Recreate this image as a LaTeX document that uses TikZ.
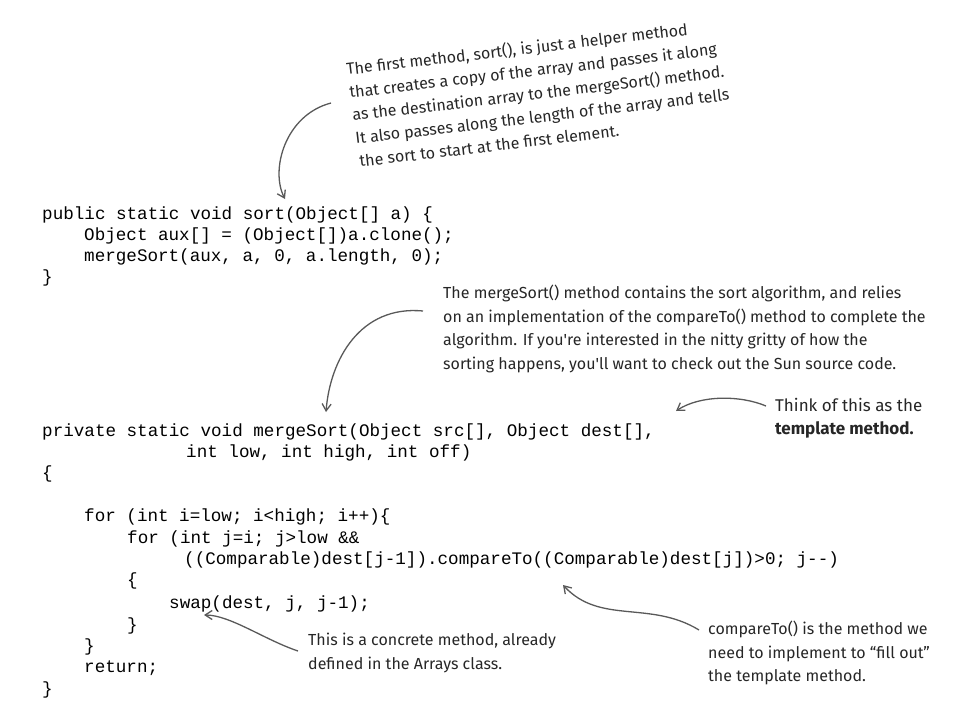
\documentclass[tikz,border=0pt]{standalone}
\usepackage{fontspec}
\setmonofont{Liberation Mono}
\newfontfamily\hand{Fira Sans}
\usetikzlibrary{arrows.meta}
\begin{document}
\begin{tikzpicture}[x=1pt,y=-1pt,
  code/.style={anchor=base west,inner sep=0pt,font=\fontsize{17.6}{20}\ttfamily},
  note/.style={anchor=base west,inner sep=0pt,align=left,font=\hand\fontsize{16}{23.5}\selectfont,text=black!85},
  tilted/.style={note,anchor=base west,rotate=6.7,font=\hand\fontsize{16}{20}\selectfont},
  pointer/.style={draw=black!65,line width=1.3pt,-{Straight Barb[length=7pt,width=9pt]}}]
\useasboundingbox (0,0) rectangle (953,728);
% code block 1
\node[code] (c1) at (42,219) {public static void sort(Object[] a) \{};
\node[code] (c2) at (84,240) {Object aux[] = (Object[])a.clone();};
\node[code] (c3) at (84,261) {mergeSort(aux, a, 0, a.length, 0);};
\node[code] (c4) at (42,282) {\}};
% code block 2
\node[code] (d1) at (42,436) {private static void mergeSort(Object src[], Object dest[],};
\node[code] (d2) at (186,457) {int low, int high, int off)};
\node[code] (d3) at (42,478) {\{};
\node[code] (d4) at (84,521) {for (int i=low; i<high; i++)\{};
\node[code] (d5) at (127,543) {for (int j=i; j>low \&\&};
\node[code] (d6) at (184,564) {((Comparable)dest[j-1]).compareTo((Comparable)dest[j])>0; j--)};
\node[code] (d7) at (127,585) {\{};
\node[code] (d8) at (169,608) {swap(dest, j, j-1);};
\node[code] (d9) at (127,630) {\}};
\node[code] (d10) at (84,651) {\}};
\node[code] (d11) at (84,672) {return;};
\node[code] (d12) at (42,694) {\}};
% notes
\node[tilted] (n1a) at (347,75) {The first method, sort(), is just a helper method};
\node[tilted] (n1b) at (350,98) {that creates a copy of the array and passes it along};
\node[tilted] (n1c) at (353,121) {as the destination array to the mergeSort() method.};
\node[tilted] (n1d) at (356,144) {It also passes along the length of the array and tells};
\node[tilted] (n1e) at (360,167) {the sort to start at the first element.};
\node[note,anchor=north west] (n2) at (443,285) {The mergeSort() method contains the sort algorithm, and relies\\on an implementation of the compareTo() method to complete the\\algorithm. If you're interested in the nitty gritty of how the\\sorting happens, you'll want to check out the Sun source code.};
\node[note,anchor=north west,font=\hand\fontsize{17}{23.5}\selectfont] (n3) at (775,398) {Think of this as the\\\textbf{template method.}};
\node[note,anchor=north west] (n4) at (708,621) {compareTo() is the method we\\need to implement to “fill out”\\the template method.};
\node[note,anchor=north west] (n5) at (308,633) {This is a concrete method, already\\defined in the Arrays class.};
% arrows
\coordinate (a1s) at (331,103); \coordinate (a1e) at (285,199);
\draw[pointer] (a1s) .. controls (285,115) and (270,170) .. (a1e);
\coordinate (a2s) at (423,311); \coordinate (a2e) at (326,412);
\draw[pointer] (a2s) .. controls (360,305) and (330,360) .. (a2e);
\coordinate (a3s) at (766,406); \coordinate (a3e) at (676,411);
\draw[pointer] (a3s) .. controls (740,395) and (700,395) .. (a3e);
\coordinate (a4s) at (699,630); \coordinate (a4e) at (563,585);
\draw[pointer] (a4s) .. controls (650,600) and (600,625) .. (a4e);
\coordinate (a5s) at (298,651); \coordinate (a5e) at (204,615);
\draw[pointer] (a5s) .. controls (265,640) and (230,615) .. (a5e);
\end{tikzpicture}
\end{document}
